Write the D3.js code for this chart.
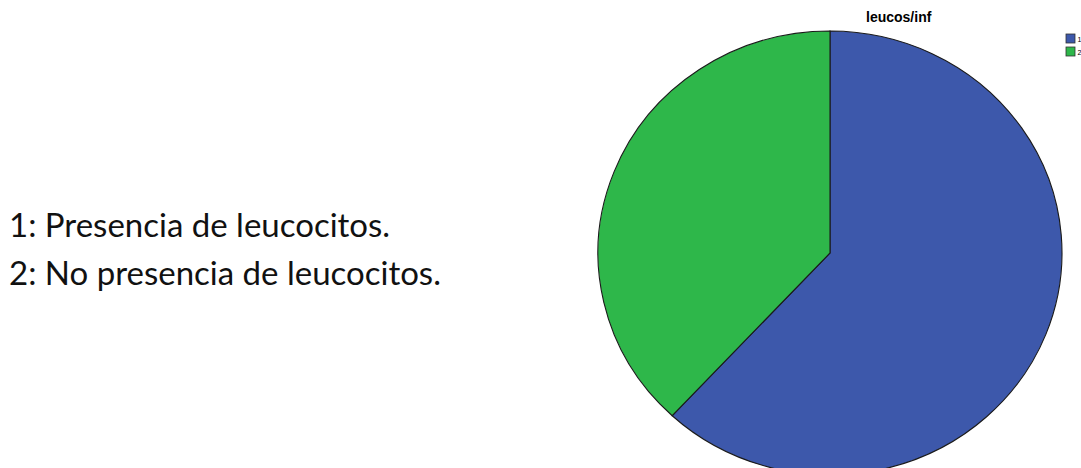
<!DOCTYPE html>
<html>
<head>
<meta charset="utf-8">
<script src="https://cdn.jsdelivr.net/npm/d3@7"></script>
<style>
  html, body { margin: 0; padding: 0; background: #fff; }
  svg { display: block; }
</style>
</head>
<body>
<svg id="chart" width="1081" height="468"></svg>
<script>
// Leucocyte presence: category codes, counts and colours
const categories = ["1", "2"];
const counts = [13, 8];
const sliceColors = ["#3d58ab", "#2eb74a"];
const chartTitle = "leucos/inf";
const notes = ["1: Presencia de leucocitos.", "2: No presencia de leucocitos."];

const svg = d3.select("#chart");

// Explanatory notes on the left
svg.selectAll("text.note")
  .data(notes)
  .join("text")
  .attr("class", "note")
  .attr("x", 9)
  .attr("y", (d, i) => 237 + i * 48)
  .attr("font-family", "Lato, 'Open Sans', sans-serif")
  .attr("font-size", 33)
  .attr("fill", "#111")
  .text(d => d);

// Pie, stretched slightly wider than tall
const cx = 830, cy = 253, ry = 222, rx = 232;
const pie = d3.pie().sort(null).value(d => d)(counts);
const arc = d3.arc().innerRadius(0).outerRadius(ry);

const pieG = svg.append("g")
  .attr("transform", `translate(${cx},${cy}) scale(${rx / ry},1)`);

pieG.selectAll("path")
  .data(pie)
  .join("path")
  .attr("d", arc)
  .attr("fill", (d, i) => sliceColors[i])
  .attr("stroke", "#1a1a1a")
  .attr("stroke-width", 1.1)
  .attr("vector-effect", "non-scaling-stroke");

// Title
svg.append("text")
  .attr("x", 866)
  .attr("y", 22)
  .attr("font-family", "'Liberation Sans', Arial, sans-serif")
  .attr("font-weight", "bold")
  .attr("font-size", 14)
  .attr("fill", "#000")
  .text(chartTitle);

// Legend at the right edge
const legend = svg.append("g").attr("transform", "translate(1066,34)");
const item = legend.selectAll("g")
  .data(categories)
  .join("g")
  .attr("transform", (d, i) => `translate(0,${i * 13})`);
item.append("rect")
  .attr("width", 9)
  .attr("height", 9)
  .attr("fill", (d, i) => sliceColors[i])
  .attr("stroke", "#333")
  .attr("stroke-width", 0.8);
item.append("text")
  .attr("x", 11.5)
  .attr("y", 8)
  .attr("font-family", "'Liberation Sans', Arial, sans-serif")
  .attr("font-size", 7)
  .attr("fill", "#000")
  .text(d => d);
</script>
</body>
</html>
